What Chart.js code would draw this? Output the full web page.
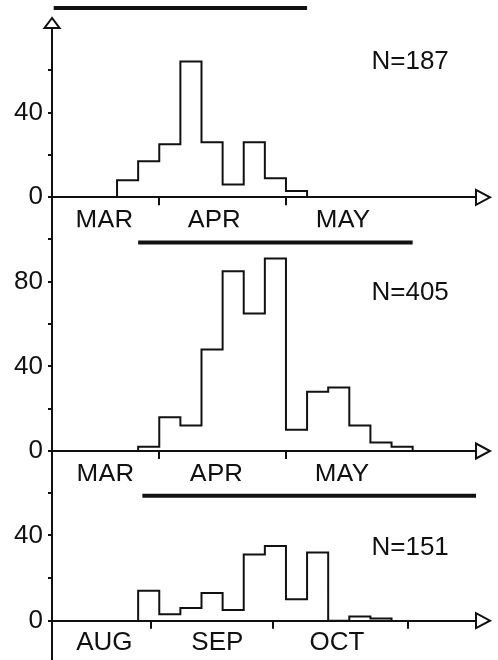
<!DOCTYPE html>
<html>
<head>
<meta charset="utf-8">
<script src="https://cdn.jsdelivr.net/npm/chart.js@4/dist/chart.umd.min.js"></script>
<style>
  body { margin: 0; background: #fff; }
  #wrap { position: relative; width: 498px; height: 660px; }
  #wrap canvas { position: absolute; left: 0; top: 0; }
</style>
</head>
<body>
<div id="wrap">
  <canvas id="c1" width="498" height="660"></canvas>
  <canvas id="c2" width="498" height="660"></canvas>
  <canvas id="c3" width="498" height="660"></canvas>
</div>
<script>
// 每格 = 一個五日期 (x 軸單位)
// 第一組 N=187
const counts1 = [8, 17, 25, 64, 26, 6, 26, 9, 3];
const start1 = 3;
const months1 = ['MAR', 'APR', 'MAY'];
const monthPos1 = [2.4, 7.6, 13.7];
const bounds1 = [5, 11];
const span1 = [0, 12];
const yTicks1 = [0, 20, 40, 60];

// 第二組 N=405
const counts2 = [2, 16, 12, 48, 85, 65, 91, 10, 28, 30, 12, 4, 2];
const start2 = 4;
const months2 = ['MAR', 'APR', 'MAY'];
const monthPos2 = [2.45, 7.7, 13.65];
const bounds2 = [5, 11];
const span2 = [4, 17];
const yTicks2 = [0, 20, 40, 60, 80, 100];

// 第三組 N=151
const counts3 = [14, 3, 6, 13, 5, 31, 35, 10, 32, 0, 2, 1];
const start3 = 4;
const months3 = ['AUG', 'SEP', 'OCT'];
const monthPos3 = [2.4, 7.75, 13.42];
const bounds3 = [4.61, 10.4, 16.77];
const span3 = [4.2, 20];
const yTicks3 = [0, 20, 40, 60];

const FONT = 'Liberation Sans, Arial, sans-serif';
const INK = '#111';

Chart.defaults.font.family = FONT;
Chart.defaults.color = INK;

function drawTri(ctx, pts) {
    ctx.beginPath();
    ctx.moveTo(pts[0][0], pts[0][1]);
    ctx.lineTo(pts[1][0], pts[1][1]);
    ctx.lineTo(pts[2][0], pts[2][1]);
    ctx.closePath();
    ctx.fillStyle = '#fff';
    ctx.fill();
    ctx.lineWidth = 2;
    ctx.strokeStyle = INK;
    ctx.stroke();
}

/**
 * 建立單一面板
 */
function makePanel(id, p) {
    const hist = [{x: p.start, y: 0}];
    p.counts.forEach((c, i) => hist.push({x: p.start + i, y: c}));
    hist.push({x: p.start + p.counts.length, y: 0});

    const near = (a, b) => Math.abs(a - b) < 1e-6;

    const decor = {
        id: 'decor' + id,
        afterDraw(chart) {
            const ctx = chart.ctx;
            const area = chart.chartArea;
            const xs = chart.scales.x, ys = chart.scales.y;
            ctx.save();
            // 左側縱軸 (只畫一次，貫穿三個面板)
            if (p.axisTop) {
                ctx.beginPath();
                ctx.lineWidth = 2;
                ctx.strokeStyle = INK;
                ctx.moveTo(area.left, 28);
                ctx.lineTo(area.left, 660);
                ctx.stroke();
                drawTri(ctx, [[area.left, 18], [area.left - 7.5, 28], [area.left + 7.5, 28]]);
            }
            // 右側箭頭
            const by = area.bottom;
            drawTri(ctx, [[area.right, by - 7.5], [area.right, by + 7.5], [area.right + 14, by]]);
            // N 標示
            ctx.fillStyle = INK;
            ctx.font = '26px ' + FONT;
            ctx.textAlign = 'left';
            ctx.textBaseline = 'middle';
            ctx.fillText(p.nLabel, xs.getPixelForValue(15.05), ys.getPixelForValue(p.nY));
            ctx.restore();
        }
    };

    return new Chart(document.getElementById(id), {
        type: 'line',
        data: {
            datasets: [{
                data: hist,
                stepped: 'before',
                borderColor: INK,
                borderWidth: 2,
                pointRadius: 0,
                fill: false,
            }, {
                data: [{x: p.span[0], y: p.spanY}, {x: p.span[1], y: p.spanY}],
                borderColor: INK,
                borderWidth: 4,
                borderCapStyle: 'butt',
                pointRadius: 0,
                fill: false,
                clip: false,
            }],
        },
        options: {
            responsive: false,
            animation: false,
            devicePixelRatio: 1,
            events: [],
            layout: { padding: { left: 0, right: 22, top: p.padTop, bottom: p.padBottom } },
            plugins: { legend: { display: false }, tooltip: { enabled: false } },
            scales: {
                x: {
                    type: 'linear',
                    min: -0.08,
                    max: 20,
                    afterBuildTicks: (s) => {
                        s.ticks = p.bounds.concat(p.monthPos).sort((a, b) => a - b).map(v => ({value: v}));
                    },
                    afterFit: (s) => {
                        s.height = 30;
                        s.paddingLeft = 0; s.paddingRight = 0;
                        s.paddingTop = 0; s.paddingBottom = 0;
                    },
                    ticks: {
                        autoSkip: false,
                        maxRotation: 0,
                        minRotation: 0,
                        padding: p.labelPad,
                        color: INK,
                        font: { size: 26, lineHeight: 1 },
                        callback: (v) => {
                            const i = p.monthPos.findIndex(m => near(m, v));
                            return i >= 0 ? p.months[i] : '';
                        },
                    },
                    grid: {
                        drawOnChartArea: false,
                        drawTicks: true,
                        tickLength: 8,
                        lineWidth: 2,
                        color: (c) => (c.tick && p.bounds.some(b => near(b, c.tick.value))) ? INK : 'rgba(0,0,0,0)',
                    },
                    border: { display: true, color: INK, width: 2 },
                },
                y: {
                    min: 0,
                    max: p.yMax,
                    afterBuildTicks: (s) => {
                        s.ticks = p.yTicks.map(v => ({value: v}));
                    },
                    afterFit: (s) => {
                        s.width = 52;
                        s.paddingLeft = 0; s.paddingRight = 0;
                        s.paddingTop = 0; s.paddingBottom = 0;
                    },
                    ticks: {
                        autoSkip: false,
                        padding: 5,
                        color: INK,
                        font: { size: 26, lineHeight: 1 },
                        callback: (v) => (v % 40 === 0 ? String(v) : ''),
                    },
                    grid: {
                        drawOnChartArea: false,
                        drawTicks: true,
                        tickLength: 4,
                        lineWidth: 2,
                        color: INK,
                    },
                    border: { display: false },
                },
            },
        },
        plugins: [decor],
    });
}

makePanel('c1', {
    counts: counts1, start: start1, months: months1, monthPos: monthPos1,
    bounds: bounds1, span: span1, spanY: 89.3, yTicks: yTicks1, yMax: 90,
    padTop: 6.5, padBottom: 432.7, labelPad: 3, nLabel: 'N=187', nY: 64, axisTop: true,
});
makePanel('c2', {
    counts: counts2, start: start2, months: months2, monthPos: monthPos2,
    bounds: bounds2, span: span2, spanY: 98.6, yTicks: yTicks2, yMax: 102,
    padTop: 235.2, padBottom: 179, labelPad: 3, nLabel: 'N=405', nY: 74.7, axisTop: false,
});
makePanel('c3', {
    counts: counts3, start: start3, months: months3, monthPos: monthPos3,
    bounds: bounds3, span: span3, spanY: 58.6, yTicks: yTicks3, yMax: 62,
    padTop: 488.4, padBottom: 9.3, labelPad: 1, nLabel: 'N=151', nY: 34.3, axisTop: false,
});
</script>
</body>
</html>
